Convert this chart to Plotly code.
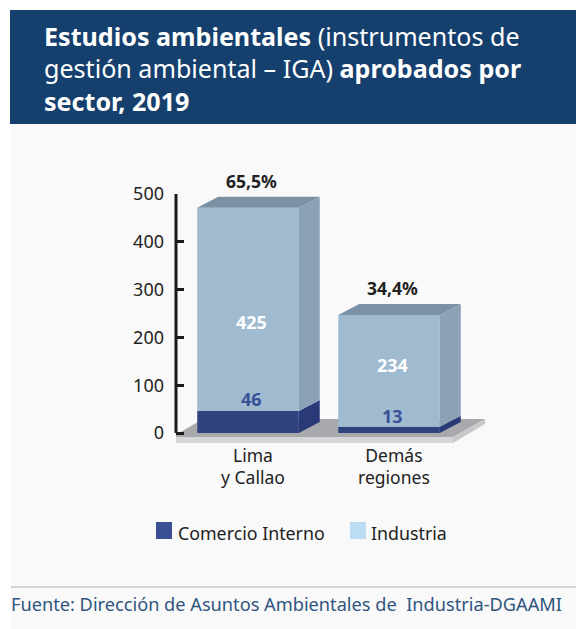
import plotly.graph_objects as go

categories = ["Lima<br>y Callao", "Demás<br>regiones"]
comercio = [46, 13]
industria = [425, 234]
percent = ["65,5%", "34,4%"]
y_ticks = [0, 100, 200, 300, 400, 500]
series_names = ["Comercio Interno", "Industria"]
legend_colors = ["#3a4f94", "#bcdcf3"]

title_lines = [
    "<b>Estudios ambientales</b> (instrumentos de",
    "gestión ambiental – IGA) <b>aprobados por</b>",
    "<b>sector, 2019</b>",
]
source = "Fuente: Dirección de Asuntos Ambientales de  Industria-DGAAMI"

W, H = 576, 629
PL, PR, PT, PB = 176, 490, 194, 446
PX_X = 141.0          # px per category step
X0_PX = 248.0         # px of first category centre
PX_Y = 239 / 500      # px per unit
BAR_W = 0.72
DX = 21 / PX_X        # depth in x units
DY = 11 / PX_Y        # depth in y units
FONT = "Noto Sans"

xr = [(PL - X0_PX) / PX_X, (PR - X0_PX) / PX_X]
yr = [-(PB - 433) / PX_Y, 500]
xs = list(range(len(categories)))

fig = go.Figure()
fig.add_bar(x=xs, y=comercio, width=BAR_W, marker=dict(color="#2e4380", line_width=0),
            name=series_names[0], showlegend=False, hoverinfo="skip")
fig.add_bar(x=xs, y=industria, base=comercio, width=BAR_W, marker=dict(color="#a0bbd0", line_width=0),
            name=series_names[1], showlegend=False, hoverinfo="skip")


def poly(px, py, color):
    fig.add_scatter(x=px, y=py, mode="lines", fill="toself", fillcolor=color,
                    line=dict(width=0, color=color), showlegend=False, hoverinfo="skip")


for i, (c, n) in enumerate(zip(comercio, industria)):
    r = i + BAR_W / 2
    l = i - BAR_W / 2
    t = c + n
    poly([r, r + DX, r + DX, r, r], [0, DY, c + DY, c, 0], "#2a3a78")
    poly([r, r + DX, r + DX, r, r], [c, c + DY, t + DY, t, c], "#8aa1b6")
    poly([l, l + DX, r + DX, r, l], [t, t + DY, t + DY, t, t], "#7b92a6")


def pp(x, y):
    return dict(x=(x - PL) / (PR - PL), y=(PB - y) / (PB - PT))


def prect(x0, y0, x1, y1, color):
    a, b = pp(x0, y1), pp(x1, y0)
    return dict(type="rect", xref="paper", yref="paper", x0=a["x"], y0=a["y"], x1=b["x"], y1=b["y"],
                fillcolor=color, line_width=0, layer="below")


shapes = [prect(11, 124, 576, 629, "#f9f9f9"), prect(10, 10, 576, 124, "#153f6d")]
a, b = pp(11, 587), pp(576, 587)
shapes.append(dict(type="line", xref="paper", yref="paper", x0=a["x"], y0=a["y"], x1=b["x"], y1=b["y"],
                   line=dict(color="#c8c8c8", width=1.5), layer="below"))


# floor
def fx(p):
    return (p - X0_PX) / PX_X


def fy(p):
    return (433 - p) / PX_Y


def path(pts):
    return "M" + " L".join(f"{fx(x):.4f},{fy(y):.2f}" for x, y in pts) + " Z"


shapes += [
    dict(type="path", path=path([(172, 437), (203, 419), (485, 419), (453, 437)]),
         fillcolor="#a8a9ad", line_width=0, layer="below"),
    dict(type="path", path=path([(172, 437), (453, 437), (453, 443), (172, 443)]),
         fillcolor="#d5d6d8", line_width=0, layer="below"),
    dict(type="path", path=path([(453, 437), (485, 419), (485, 424), (453, 443)]),
         fillcolor="#c8c9cb", line_width=0, layer="below"),
    dict(type="line", xref="paper", yref="y", x0=0, x1=0, y0=0, y1=500,
         line=dict(color="#1a1a1a", width=3)),
]

ann = []
for i, line in enumerate(title_lines):
    p = pp(42, [36, 68, 101][i])
    ann.append(dict(xref="paper", yref="paper", x=p["x"], y=p["y"], text=line, showarrow=False,
                    xanchor="left", yanchor="middle", font=dict(family=FONT, size=25.1, color="#ffffff")))
p = pp(9, 604)
ann.append(dict(xref="paper", yref="paper", x=p["x"], y=p["y"], text=source, showarrow=False,
                xanchor="left", yanchor="middle", font=dict(family=FONT, size=18.2, color="#2f5580")))

# legend
for name, color, sx, tx in zip(series_names, legend_colors, [156, 350], [176, 369]):
    shapes.append(prect(sx, 522, sx + 16, 539, color))
    p = pp(tx, 533)
    ann.append(dict(xref="paper", yref="paper", x=p["x"], y=p["y"], text=name, showarrow=False,
                    xanchor="left", yanchor="middle", font=dict(family=FONT, size=17.8, color="#222222")))

shift_ind = [-13, 6]
for i, (c, n, pc) in enumerate(zip(comercio, industria, percent)):
    t = c + n
    ann.append(dict(x=i, y=t, text=f"<b>{pc}</b>", showarrow=False, xshift=3, yshift=27,
                    font=dict(family=FONT, size=17.5, color="#222222")))
    ann.append(dict(x=i, y=c + n / 2, text=f"<b>{n}</b>", showarrow=False, xshift=3, yshift=shift_ind[i],
                    font=dict(family=FONT, size=18, color="#ffffff")))
    ann.append(dict(x=i, y=c, text=f"<b>{c}</b>", showarrow=False, xshift=3, yshift=[12, 11][i],
                    font=dict(family=FONT, size=18, color="#3a5098")))

fig.update_layout(
    width=W, height=H, autosize=False, barmode="overlay", showlegend=False,
    margin=dict(l=PL, r=W - PR, t=PT, b=H - PB, pad=0),
    paper_bgcolor="#ffffff", plot_bgcolor="rgba(0,0,0,0)",
    font=dict(family=FONT, color="#222222"),
    shapes=shapes, annotations=ann,
    xaxis=dict(range=xr, tickvals=[x + 0.035 for x in xs], ticktext=categories, ticks="", showline=False,
               showgrid=False, zeroline=False, ticklabelstandoff=-3,
               tickfont=dict(family=FONT, size=17.5, color="#222222")),
    yaxis=dict(range=yr, tickvals=y_ticks, ticks="inside", ticklen=8, tickwidth=2.5, tickcolor="#1a1a1a",
               showline=False, showgrid=False, zeroline=False, ticklabelstandoff=11,
               tickfont=dict(family=FONT, size=18, color="#222222")),
)
fig.write_html("out.html", config=dict(displayModeBar=False),
               post_script="document.body.style.margin='0';document.documentElement.style.overflow='hidden';")
